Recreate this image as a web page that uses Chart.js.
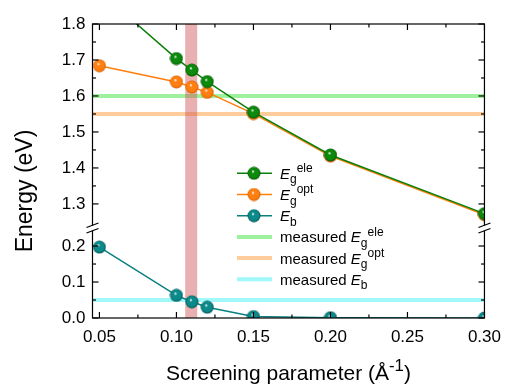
<!DOCTYPE html>
<html><head><meta charset="utf-8">
<style>html,body{margin:0;padding:0;background:#fff;} canvas{display:block;}</style>
<script src="https://cdn.jsdelivr.net/npm/chart.js@4.4.0/dist/chart.umd.min.js"></script>
</head><body>
<canvas id="c" width="510" height="385"></canvas>
<script>
// ---- data ----
const screening = [0.05, 0.10, 0.11, 0.12, 0.15, 0.20, 0.30];
const egEle = [1.89, 1.704, 1.672, 1.640, 1.555, 1.436, 1.273];
const egOpt = [1.684, 1.639, 1.625, 1.610, 1.551, 1.433, 1.270];
const eb = [0.197, 0.063, 0.045, 0.030, 0.004, 0.001, 0.000];
const measuredEgEle = 1.60;
const measuredEgOpt = 1.55;
const measuredEb = 0.05;
const bandRange = [0.1057, 0.1135];
const xRange = [0.0455, 0.30];
const yHighRange = [1.233, 1.8];
const yLowRange = [0, 0.25];
const xTicks = [0.05, 0.10, 0.15, 0.20, 0.25, 0.30];
const xMinorTicks = [0.075, 0.125, 0.175, 0.225, 0.275];
const yHighTicks = [1.3, 1.4, 1.5, 1.6, 1.7, 1.8];
const yHighMinor = [1.35, 1.45, 1.55, 1.65, 1.75];
const yLowTicks = [0.0, 0.1, 0.2];
const yLowMinor = [0.05, 0.15];

const FONT = "'Liberation Sans', Arial, sans-serif";
Chart.defaults.font.family = FONT;
Chart.defaults.color = '#000';

function sphere(color, dark, r) {
  const s = Math.ceil(r * 2) + 1;
  const c = document.createElement('canvas'); c.width = s; c.height = s;
  const g = c.getContext('2d');
  const grad = g.createRadialGradient(s * 0.42, s * 0.36, 0.3, s / 2, s / 2, r);
  grad.addColorStop(0, '#ffffff');
  grad.addColorStop(0.22, color);
  grad.addColorStop(0.75, color);
  grad.addColorStop(1, dark);
  g.fillStyle = grad;
  g.beginPath(); g.arc(s / 2, s / 2, r, 0, Math.PI * 2); g.fill();
  return c;
}
const GREEN = '#0a800a', ORANGE = '#ff7f0a', TEAL = '#0a8080';
const sGreen = sphere('#0b8a0b', '#045004', 6.5);
const sOrange = sphere('#ff8010', '#d05a00', 6.5);
const sTeal = sphere('#0a8a8a', '#045050', 6.5);
const C_MEAS_ELE = '#9ef29e', C_MEAS_OPT = '#ffcc9c', C_MEAS_EB = '#a0f8f8';

const pts = (ys) => screening.map((x, i) => ({x, y: ys[i]}));
const hline = (y) => xRange.map(x => ({x, y}));

function drawRich(ctx, parts, x, y, size) {
  let cx = x;
  for (const p of parts) {
    let sz = size, dy = 0, style = '';
    if (p.s === 'i') style = 'italic ';
    if (p.s === 'sub') { sz = size * 0.8; dy = size * 0.3; }
    if (p.s === 'sup') { sz = size * 0.8; dy = -size * 0.45; }
    ctx.font = style + sz + 'px ' + FONT;
    ctx.fillText(p.t, cx, y + dy);
    cx += ctx.measureText(p.t).width;
  }
  return cx - x;
}
function measureRich(ctx, parts, size) {
  let w = 0;
  for (const p of parts) {
    let sz = size, style = '';
    if (p.s === 'i') style = 'italic ';
    if (p.s === 'sub' || p.s === 'sup') sz = size * 0.8;
    ctx.font = style + sz + 'px ' + FONT;
    w += ctx.measureText(p.t).width;
  }
  return w;
}

const legendItems = [
  {type: 'series', color: GREEN, img: sGreen, parts: [{t: 'E', s: 'i'}, {t: 'g', s: 'sub'}, {t: 'ele', s: 'sup'}]},
  {type: 'series', color: ORANGE, img: sOrange, parts: [{t: 'E', s: 'i'}, {t: 'g', s: 'sub'}, {t: 'opt', s: 'sup'}]},
  {type: 'series', color: TEAL, img: sTeal, parts: [{t: 'E', s: 'i'}, {t: 'b', s: 'sub'}]},
  {type: 'line', color: C_MEAS_ELE, parts: [{t: 'measured ', s: 'n'}, {t: 'E', s: 'i'}, {t: 'g', s: 'sub'}, {t: 'ele', s: 'sup'}]},
  {type: 'line', color: C_MEAS_OPT, parts: [{t: 'measured ', s: 'n'}, {t: 'E', s: 'i'}, {t: 'g', s: 'sub'}, {t: 'opt', s: 'sup'}]},
  {type: 'line', color: C_MEAS_EB, parts: [{t: 'measured ', s: 'n'}, {t: 'E', s: 'i'}, {t: 'b', s: 'sub'}]},
];

let bandDone = false;
const bandPlugin = {
  id: 'band',
  beforeDatasetsDraw() { bandDone = false; },
  beforeDatasetDraw(chart, args) {
    if (bandDone || !chart.data.datasets[args.index].isSeries) return;
    bandDone = true;
    const {ctx, chartArea: a, scales: {x}} = chart;
    const x0 = x.getPixelForValue(bandRange[0]), x1 = x.getPixelForValue(bandRange[1]);
    ctx.save();
    ctx.fillStyle = 'rgba(205,80,80,0.45)';
    ctx.fillRect(x0, a.top, x1 - x0, a.bottom - a.top);
    ctx.restore();
  }
};

const framePlugin = {
  id: 'frame',
  afterDraw(chart) {
    const {ctx, chartArea: a, scales} = chart;
    const xs = scales.x, yh = scales.yHigh, yl = scales.yLow;
    ctx.save();
    ctx.strokeStyle = '#000'; ctx.lineWidth = 1.2;
    ctx.strokeRect(a.left, a.top, a.right - a.left, a.bottom - a.top);
    const seg = (x1, y1, x2, y2) => { ctx.beginPath(); ctx.moveTo(x1, y1); ctx.lineTo(x2, y2); ctx.stroke(); };
    const xt = (v, L) => { const p = xs.getPixelForValue(v); seg(p, a.bottom, p, a.bottom - L); seg(p, a.top, p, a.top + L); };
    const yt = (sc, v, L) => { const p = sc.getPixelForValue(v); seg(a.left, p, a.left + L, p); seg(a.right, p, a.right - L, p); };
    xTicks.forEach(v => xt(v, 6));
    xMinorTicks.forEach(v => xt(v, 3.5));
    yHighTicks.forEach(v => yt(yh, v, 6));
    yHighMinor.forEach(v => yt(yh, v, 3.5));
    yLowTicks.forEach(v => yt(yl, v, 6));
    yLowMinor.forEach(v => yt(yl, v, 3.5));
    // axis breaks
    const by = yh.bottom;
    [a.left, a.right].forEach(bx => {
      ctx.fillStyle = '#fff';
      ctx.fillRect(bx - 2, by - 2.5, 4, 5);
      ctx.lineWidth = 1.2;
      seg(bx - 6, by - 0.5, bx + 6, by - 5);
      seg(bx - 6, by + 5, bx + 6, by + 0.5);
    });
    // axis titles
    ctx.fillStyle = '#000';
    ctx.textBaseline = 'alphabetic';
    const xParts = [{t: 'Screening parameter (Å', s: 'n'}, {t: '-1', s: 'sup'}, {t: ')', s: 'n'}];
    const xw = measureRich(ctx, xParts, 21);
    drawRich(ctx, xParts, (a.left + a.right) / 2 - xw / 2, 380, 21);
    ctx.save();
    ctx.translate(32, (a.top + a.bottom) / 2 + 20);
    ctx.rotate(-Math.PI / 2);
    const yParts = [{t: 'Energy (eV)', s: 'n'}];
    const yw = measureRich(ctx, yParts, 23);
    drawRich(ctx, yParts, -yw / 2, 0, 23);
    ctx.restore();
    // legend
    const rowY0 = 173.3, rowStep = 21.2;
    legendItems.forEach((it, i) => {
      const y = rowY0 + i * rowStep;
      if (it.type === 'series') {
        ctx.strokeStyle = it.color; ctx.lineWidth = 1.5;
        seg(237, y, 272, y);
        ctx.drawImage(it.img, 254 - it.img.width / 2, y - it.img.height / 2);
      } else {
        ctx.strokeStyle = it.color; ctx.lineWidth = 4;
        seg(237, y, 272, y);
      }
      ctx.fillStyle = '#000';
      drawRich(ctx, it.parts, 280, y + 5.5, 15);
    });
    ctx.restore();
  }
};

new Chart(document.getElementById('c'), {
  type: 'line',
  data: {
    datasets: [
      {isSeries: true, label: 'Eg ele', data: pts(egEle), yAxisID: 'yHigh', borderColor: GREEN, borderWidth: 1.5,
       pointStyle: sGreen, pointRadius: 6.5, order: 0, clip: 0},
      {isSeries: true, label: 'Eg opt', data: pts(egOpt), yAxisID: 'yHigh', borderColor: ORANGE, borderWidth: 1.5,
       pointStyle: sOrange, pointRadius: 6.5, order: 1, clip: 0},
      {isSeries: true, label: 'Eb', data: pts(eb), yAxisID: 'yLow', borderColor: TEAL, borderWidth: 1.5,
       pointStyle: sTeal, pointRadius: 6.5, order: 1, clip: 0},
      {label: 'measured Eg ele', data: hline(measuredEgEle), yAxisID: 'yHigh', borderColor: C_MEAS_ELE, borderWidth: 4, pointRadius: 0, order: 5, clip: 0},
      {label: 'measured Eg opt', data: hline(measuredEgOpt), yAxisID: 'yHigh', borderColor: C_MEAS_OPT, borderWidth: 4, pointRadius: 0, order: 5, clip: 0},
      {label: 'measured Eb', data: hline(measuredEb), yAxisID: 'yLow', borderColor: C_MEAS_EB, borderWidth: 4, pointRadius: 0, order: 5, clip: 0},
    ]
  },
  options: {
    responsive: false,
    animation: false,
    devicePixelRatio: 1,
    layout: {padding: {top: 24, right: 18, left: 0, bottom: 0}},
    plugins: {legend: {display: false}, tooltip: {enabled: false}},
    elements: {line: {tension: 0}},
    scales: {
      x: {
        type: 'linear', min: xRange[0], max: xRange[1],
        grid: {display: false, drawTicks: false, tickLength: 0}, border: {display: false},
        afterBuildTicks: s => { s.ticks = xTicks.map(v => ({value: v})); },
        ticks: {font: {size: 17}, padding: 9, maxRotation: 0, autoSkip: false, callback: v => Number(v).toFixed(2)},
        afterFit: s => { s.height = 67; }
      },
      yLow: {
        type: 'linear', position: 'left', stack: 'y', stackWeight: yLowRange[1] - yLowRange[0],
        min: yLowRange[0], max: yLowRange[1],
        grid: {display: false, drawTicks: false, tickLength: 0}, border: {display: false},
        afterBuildTicks: s => { s.ticks = yLowTicks.map(v => ({value: v})); },
        ticks: {font: {size: 17}, padding: 7, autoSkip: false, callback: v => Number(v).toFixed(1)},
        afterFit: s => { s.width = 92.5; }
      },
      yHigh: {
        type: 'linear', position: 'left', stack: 'y', stackWeight: yHighRange[1] - yHighRange[0],
        min: yHighRange[0], max: yHighRange[1],
        grid: {display: false, drawTicks: false, tickLength: 0}, border: {display: false},
        afterBuildTicks: s => { s.ticks = yHighTicks.map(v => ({value: v})); },
        ticks: {font: {size: 17}, padding: 7, autoSkip: false, callback: v => Number(v).toFixed(1)},
        afterFit: s => { s.width = 92.5; }
      }
    }
  },
  plugins: [bandPlugin, framePlugin]
});
</script>
</body></html>
